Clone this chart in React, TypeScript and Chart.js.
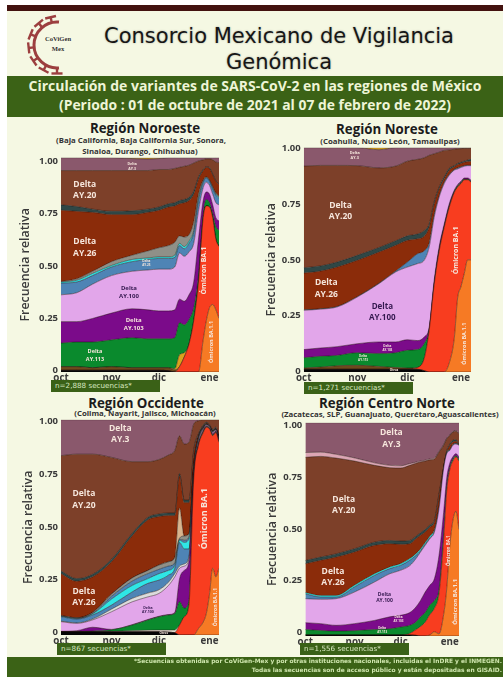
import React, { useEffect, useRef } from "react";
import { Chart, registerables } from "chart.js";

Chart.register(...registerables);

const xStops = [0, 10, 20, 32, 45, 55, 62, 68, 72, 75, 78, 81, 84, 87, 90, 92, 94, 96, 98, 100];
const xTickPositions = [0, 32, 62, 94];
const xTickLabels = ["oct", "nov", "dic", "ene"];
const yTicks = [0, 0.25, 0.5, 0.75, 1];

// Upper edge of each layer (cumulative relative frequency), Región Noroeste
const noOtros = [.008,.008,.008,.008,.008,.008,.008,.006,0,0,0,0,0,0,0,0,0,0,0,0];
const noBA11 = [0,0,0,0,0,0,0,0,0,0,0,0,0,0,.15,.24,.30,.315,.29,.25];
const noBA1 = [0,0,0,0,0,0,0,0,0,.025,.07,.13,.24,.42,.72,.775,.77,.72,.62,.585];
const noCafe = [.025,.025,.02,.025,.02,.02,.02,.02,.01,0,0,0,0,0,0,0,0,0,0,0];
const noOro = [.025,.025,.02,.025,.02,.02,.02,.02,.015,.08,.09,0,0,0,0,0,0,0,0,0];
const noAY113 = [.135,.14,.14,.15,.16,.155,.155,.155,.16,.23,.22,.245,.30,.45,.74,.805,.79,.74,.68,.66];
const noAY103 = [.235,.235,.25,.275,.295,.29,.285,.285,.29,.34,.33,.36,.42,.62,.80,.84,.83,.78,.72,.705];
const noAY100 = [.36,.37,.41,.45,.47,.476,.48,.48,.49,.555,.54,.56,.60,.75,.86,.885,.87,.83,.79,.78];
const noAY25 = [.415,.42,.45,.49,.515,.525,.53,.53,.535,.59,.575,.60,.65,.80,.885,.905,.89,.855,.825,.81];
const noCian = [.42,.428,.46,.497,.525,.532,.537,.537,.545,.60,.585,.61,.66,.81,.89,.908,.893,.86,.83,.815];
const noGris = [.422,.435,.47,.515,.545,.565,.58,.59,.605,.635,.63,.64,.70,.83,.895,.91,.895,.865,.835,.82];
const noAY26 = [.755,.75,.745,.735,.735,.745,.755,.77,.775,.785,.79,.80,.83,.90,.94,.955,.95,.92,.89,.875];
const noBanda = [.78,.772,.76,.75,.752,.76,.77,.785,.79,.80,.805,.815,.845,.91,.945,.958,.953,.925,.893,.878];
const noAY20 = [.94,.94,.94,.94,.94,.94,.945,.945,.95,.955,.96,.965,.975,.985,.99,.995,.995,.99,.98,.977];
const noAY3 = [1,1,1,1,.996,.994,.996,1,1,1,1,1,1,1,1,1,1,1,1,1];
const noOroTop = [1,1,1,1,1,1,1,1,1,1,1,1,1,1,1,1,1,1,1,1];

// Región Noreste
const neOtros = [.012,.012,.012,.012,.012,.012,.012,.012,.006,0,0,0,0,0,0,0,0,0,0,0];
const neBA11 = [0,0,0,0,0,0,0,0,0,0,0,0,0,.04,.15,.33,.38,.44,.50,.50];
const neBA1 = [0,0,0,0,0,0,0,.02,.06,.185,.39,.54,.645,.735,.80,.825,.84,.857,.857,.847];
const neCafe = [.018,.022,.028,.03,.025,.02,.018,.02,.06,.185,.39,.54,.645,.735,.80,.825,.84,.857,.857,.847];
const neAY113 = [.064,.07,.074,.086,.082,.086,.097,.10,.126,.19,.395,.545,.65,.74,.805,.83,.845,.86,.86,.85];
const neAY103 = [.10,.107,.113,.126,.134,.134,.144,.14,.156,.20,.41,.56,.66,.75,.81,.835,.85,.865,.865,.855];
const neAY100 = [.275,.28,.29,.334,.394,.446,.468,.483,.498,.557,.69,.78,.84,.877,.90,.905,.912,.917,.92,.92];
const neAY25 = [.277,.282,.292,.336,.396,.45,.49,.527,.54,.575,.70,.785,.845,.88,.903,.91,.915,.92,.922,.922];
const neAY26 = [.441,.45,.468,.498,.535,.565,.587,.594,.605,.646,.75,.817,.862,.90,.915,.925,.93,.935,.938,.94];
const neBanda = [.465,.473,.49,.52,.555,.585,.607,.615,.63,.66,.76,.825,.87,.908,.92,.93,.935,.94,.945,.948];
const neAY20 = [.918,.921,.921,.92,.91,.918,.94,.948,.955,.966,.973,.98,.988,.99,.993,.995,.996,.997,.997,.997];
const neAY3 = [1,1,1,1,.991,1,1,1,1,1,1,1,1,1,1,1,1,1,1,1];
const neOroTop = [1,1,1,1,1,1,1,1,1,1,1,1,1,1,1,1,1,1,1,1];

// Región Occidente
const ocOtros = [.015,.015,.015,.015,.015,.015,.015,.013,.01,0,0,0,0,0,0,0,0,0,0,0];
const ocBA11 = [0,0,0,0,0,0,0,0,0,0,0,0,0,.03,.06,.10,.19,.31,.27,.31];
const ocBA1 = [0,0,0,0,0,0,0,0,.012,.046,.085,.14,.725,.88,.94,.965,.957,.926,.94,.895];
const ocMarfil = [.015,.015,.015,.017,.02,.022,.023,.023,.023,.046,.085,.14,.725,.88,.94,.965,.957,.926,.94,.895];
const ocAY113 = [.015,.016,.018,.024,.046,.07,.085,.093,.10,.155,.125,.16,.73,.885,.945,.968,.96,.93,.943,.90];
const ocAY103 = [.017,.02,.036,.026,.048,.072,.087,.095,.105,.26,.30,.34,.74,.89,.95,.972,.962,.935,.946,.905];
const ocAY100 = [.062,.054,.07,.108,.154,.177,.193,.23,.27,.31,.32,.355,.75,.90,.955,.975,.965,.94,.95,.91];
const ocBlanco = [.064,.056,.074,.12,.17,.195,.21,.245,.285,.32,.33,.365,.76,.905,.958,.977,.967,.942,.952,.912];
const ocAzul = [.085,.074,.093,.139,.20,.24,.255,.278,.31,.43,.40,.40,.77,.91,.96,.978,.968,.944,.954,.914];
const ocCian = [.087,.076,.098,.167,.23,.262,.285,.30,.324,.44,.43,.447,.78,.915,.962,.979,.969,.946,.955,.915];
const ocAzul2 = [.088,.078,.10,.18,.25,.285,.305,.32,.335,.445,.44,.455,.785,.918,.964,.98,.97,.947,.956,.916];
const ocGris = [.09,.08,.105,.19,.265,.30,.325,.34,.36,.45,.46,.47,.79,.92,.965,.981,.971,.948,.957,.917];
const ocTostado = [.09,.08,.105,.19,.265,.30,.325,.34,.36,.59,.46,.47,.79,.92,.965,.981,.971,.948,.957,.917];
const ocAY26 = [.285,.25,.27,.34,.46,.535,.55,.555,.555,.74,.615,.615,.85,.93,.97,.985,.975,.95,.96,.92];
const ocBanda = [.297,.262,.282,.352,.472,.547,.562,.567,.567,.75,.627,.627,.86,.935,.975,.988,.978,.955,.965,.925];
const ocAY20 = [.833,.84,.84,.825,.805,.805,.815,.836,.857,.925,.887,.895,.98,.995,1,1,1,1,1,1];
const ocAY3 = [1,1,1,1,1,1,1,1,1,1,1,1,1,1,1,1,1,1,1,1];

// Región Centro Norte
const cnOtros = [.005,.005,.005,.005,.005,.005,.005,.005,.003,0,0,0,0,0,0,0,0,0,0,0];
const cnBA11 = [0,0,0,0,0,0,0,0,0,0,0,.005,.02,.01,.10,.22,.42,.54,.585,.50];
const cnBA1 = [0,0,0,0,0,0,.005,.012,.03,.045,.065,.10,.13,.20,.45,.68,.78,.82,.84,.82];
const cnAY113 = [.03,.026,.023,.025,.03,.034,.042,.05,.066,.09,.11,.145,.167,.22,.48,.70,.79,.83,.845,.83];
const cnAY103 = [.0625,.058,.05,.058,.073,.09,.097,.11,.136,.167,.206,.2375,.269,.378,.58,.74,.81,.84,.855,.84];
const cnAY100 = [.175,.172,.175,.206,.253,.292,.308,.33,.3625,.394,.425,.456,.4875,.597,.785,.855,.87,.894,.90,.894];
const cnAzul = [.198,.183,.183,.23,.284,.316,.331,.355,.378,.40,.43,.46,.49,.60,.787,.857,.872,.896,.902,.896];
const cnCian = [.204,.19,.19,.238,.292,.324,.339,.363,.386,.408,.438,.468,.498,.605,.79,.859,.874,.898,.904,.898];
const cnAY26 = [.339,.355,.37,.394,.425,.433,.43,.433,.456,.472,.4875,.51,.534,.66,.785,.8625,.894,.91,.9125,.894];
const cnBanda = [.354,.37,.385,.409,.44,.448,.445,.448,.468,.484,.50,.52,.544,.668,.79,.868,.90,.918,.92,.90];
const cnAY20 = [.8375,.842,.834,.82,.80,.789,.7875,.80,.81,.816,.82,.826,.83,.8625,.894,.925,.94,.956,.96,.948];
const cnRosa = [.86,.862,.852,.835,.812,.80,.798,.808,.815,.82,.824,.83,.834,.866,.897,.927,.942,.958,.962,.95];
const cnAY3 = [1,1,1,1,1,1,1,1,1,1,1,1,1,1,1,1,1,1,1,1];

const C = {
  otros: "#050505", ba11: "#f67a24", ba1: "#f83d1f", cafe: "#6d4a1e", oro: "#d8a31e",
  ay113: "#0a8a2d", ay103: "#7b0b8a", ay100: "#e2a6ea", azul: "#4e84b5", cian: "#2fe6e6",
  gris: "#8f9088", ay26: "#8b2c0a", banda: "#2f4746", ay20: "#7d4029", ay3: "#8a586c",
  marfil: "#ece8d8", blanco: "#dcdcdc", tostado: "#d8b48e", rosa: "#dba6b4",
};

const WHITE = "#f6e6dc";
const DARK = "#34184f";

const panels: any[] = [
  {
    left: 18, plotLeft: 61, plotRight: 219, plotTop: 157, plotBottom: 372, tick0: 370, tick1: 161,
    layers: [[noOtros, C.otros], [noBA11, C.ba11], [noBA1, C.ba1], [noCafe, C.cafe], [noOro, C.oro], [noAY113, C.ay113], [noAY103, C.ay103], [noAY100, C.ay100], [noAY25, C.azul], [noCian, C.cian], [noGris, C.gris], [noAY26, C.ay26], [noBanda, C.banda], [noAY20, C.ay20], [noAY3, C.ay3], [noOroTop, C.oro]],
    notes: [
      { t: ["Delta", "AY.20"], f: 15, v: 0.85, s: 8.5, c: WHITE }, { t: ["Delta", "AY.26"], f: 15, v: 0.58, s: 8.5, c: WHITE },
      { t: ["Delta", "AY.100"], f: 43, v: 0.372, s: 6, c: DARK }, { t: ["Delta", "AY.103"], f: 46, v: 0.222, s: 6, c: WHITE },
      { t: ["Delta", "AY.113"], f: 21.5, v: 0.078, s: 5.5, c: WHITE }, { t: ["Delta", "AY.3"], f: 45, v: 0.96, s: 3.5, c: WHITE },
      { t: ["Delta", "AY.25"], f: 54, v: 0.507, s: 3, c: WHITE },
      { t: ["Ómicron BA.1"], f: 90.5, v: 0.473, s: 7, c: WHITE, r: true }, { t: ["Ómicron BA.1.1"], f: 95.5, v: 0.14, s: 5.5, c: WHITE, r: true },
    ],
  },
  {
    left: 264, plotLeft: 303.7, plotRight: 471, plotTop: 147, plotBottom: 372, tick0: 371, tick1: 148,
    layers: [[neOtros, C.otros], [neBA11, C.ba11], [neBA1, C.ba1], [neCafe, C.cafe], [neAY113, C.ay113], [neAY103, C.ay103], [neAY100, C.ay100], [neAY25, C.azul], [neAY26, C.ay26], [neBanda, C.banda], [neAY20, C.ay20], [neAY3, C.ay3], [neOroTop, C.oro]],
    notes: [
      { t: ["Delta", "AY.3"], f: 30.5, v: 0.965, s: 3.8, c: WHITE }, { t: ["Delta", "AY.20"], f: 22, v: 0.717, s: 8.5, c: WHITE },
      { t: ["Delta", "AY.26"], f: 13.5, v: 0.372, s: 8.5, c: WHITE }, { t: ["Delta", "AY.100"], f: 47, v: 0.267, s: 8, c: DARK },
      { t: ["Delta", "AY.103"], f: 50, v: 0.108, s: 3, c: WHITE }, { t: ["Delta", "AY.113"], f: 35.5, v: 0.062, s: 3, c: WHITE },
      { t: ["Otros"], f: 54, v: 0.007, s: 3, c: WHITE },
      { t: ["Ómicron BA.1"], f: 91, v: 0.542, s: 7, c: WHITE, r: true }, { t: ["Ómicron BA.1.1"], f: 96, v: 0.126, s: 5.5, c: WHITE, r: true },
    ],
  },
  {
    left: 21, plotLeft: 61, plotRight: 219, plotTop: 419, plotBottom: 635, tick0: 632, tick1: 421,
    layers: [[ocOtros, C.otros], [ocBA11, C.ba11], [ocBA1, C.ba1], [ocMarfil, C.marfil], [ocAY113, C.ay113], [ocAY103, C.ay103], [ocAY100, C.ay100], [ocBlanco, C.blanco], [ocAzul, C.azul], [ocCian, C.cian], [ocAzul2, C.azul], [ocGris, C.gris], [ocTostado, C.tostado], [ocAY26, C.ay26], [ocBanda, C.banda], [ocAY20, C.ay20], [ocAY3, C.ay3]],
    notes: [
      { t: ["Delta", "AY.3"], f: 37.5, v: 0.934, s: 8.5, c: WHITE }, { t: ["Delta", "AY.20"], f: 14.5, v: 0.63, s: 8.5, c: WHITE },
      { t: ["Delta", "AY.26"], f: 14.5, v: 0.177, s: 8.5, c: WHITE }, { t: ["Delta", "AY.100"], f: 55, v: 0.116, s: 3.5, c: DARK },
      { t: ["Otros"], f: 65, v: 0.008, s: 3, c: WHITE },
      { t: ["Ómicron BA.1"], f: 90.5, v: 0.54, s: 9, c: WHITE, r: true }, { t: ["Ómicron BA.1.1"], f: 98, v: 0.13, s: 5, c: WHITE, r: true },
    ],
  },
  {
    left: 265, plotLeft: 305.3, plotRight: 459.3, plotTop: 422, plotBottom: 635.7, tick0: 632, tick1: 425,
    layers: [[cnOtros, C.otros], [cnBA11, C.ba11], [cnBA1, C.ba1], [cnAY113, C.ay113], [cnAY103, C.ay103], [cnAY100, C.ay100], [cnAzul, C.azul], [cnCian, C.cian], [cnAY26, C.ay26], [cnBanda, C.banda], [cnAY20, C.ay20], [cnRosa, C.rosa], [cnAY3, C.ay3]],
    notes: [
      { t: ["Delta", "AY.3"], f: 56, v: 0.925, s: 8.5, c: WHITE }, { t: ["Delta", "AY.20"], f: 25, v: 0.615, s: 8.5, c: WHITE },
      { t: ["Delta", "AY.26"], f: 18, v: 0.277, s: 8.5, c: WHITE }, { t: ["Delta", "AY.100"], f: 51.5, v: 0.18, s: 5, c: DARK },
      { t: ["Delta", "AY.103"], f: 60.6, v: 0.08, s: 3, c: WHITE }, { t: ["Delta", "AY.113"], f: 50, v: 0.027, s: 3, c: WHITE },
      { t: ["Ómicron BA.1"], f: 93, v: 0.40, s: 4.5, c: WHITE, r: true }, { t: ["Ómicron BA.1.1"], f: 97.4, v: 0.16, s: 6, c: WHITE, r: true },
    ],
  },
];

const FONT = '"Open Sans", sans-serif';
const TOP_PAD = 8;
const X_AXIS_H = 14;
const RIGHT_PAD = 6;

const notesPlugin = {
  id: "notes",
  afterDatasetsDraw(chart: any, _a: any, opts: any) {
    const { ctx, scales } = chart;
    for (const n of opts.items || []) {
      const px = scales.x.getPixelForValue(n.f);
      const py = scales.y.getPixelForValue(n.v);
      ctx.save();
      ctx.translate(px, py);
      if (n.r) ctx.rotate(-Math.PI / 2);
      ctx.font = `700 ${n.s}px ${FONT}`;
      ctx.fillStyle = n.c;
      ctx.textAlign = "center";
      ctx.textBaseline = "middle";
      const lh = n.s * 1.35;
      n.t.forEach((line: string, i: number) => ctx.fillText(line, 0, (i - (n.t.length - 1) / 2) * lh));
      ctx.restore();
    }
  },
};

function Panel({ p }: { p: any }) {
  const ref = useRef<HTMLCanvasElement | null>(null);
  useEffect(() => {
    const floor = xStops.map(() => 0);
    let prev = floor;
    const datasets = p.layers.map(([vals, color]: any, i: number) => {
      const data = xStops.map((x, k) => ({ x, y: Math.max(prev[k], vals[k]) }));
      prev = data.map((d: any) => d.y);
      return {
        data, backgroundColor: color, borderColor: "rgba(25,10,10,0.8)", borderWidth: 0.55,
        pointRadius: 0, cubicInterpolationMode: "monotone", fill: i === 0 ? "origin" : "-1", yAxisID: "y",
      };
    });
    const a = p.tick0, b = p.tick1;
    const chart = new Chart(ref.current as any, {
      type: "line",
      data: { datasets },
      plugins: [notesPlugin],
      options: {
        animation: false, responsive: false, events: [],
        layout: { padding: { top: TOP_PAD, right: RIGHT_PAD, left: 0, bottom: 0 } },
        plugins: { legend: { display: false }, tooltip: { enabled: false }, title: { display: false }, notes: { items: p.notes } },
        scales: {
          x: {
            type: "linear", min: 0, max: 100,
            grid: { display: false, drawTicks: false }, border: { display: false },
            afterBuildTicks: (s: any) => { s.ticks = xTickPositions.map((value) => ({ value })); },
            afterFit: (s: any) => { s.height = X_AXIS_H; },
            ticks: {
              autoSkip: false, maxRotation: 0, padding: 0, color: "#3a3a3a",
              font: { family: FONT, size: 9.8, weight: "700" },
              callback: (v: number) => xTickLabels[xTickPositions.indexOf(v)],
            },
          },
          y: { display: false, min: 0, max: 1 },
          yl: {
            position: "left", min: (a - p.plotBottom) / (a - b), max: (a - p.plotTop) / (a - b),
            grid: { display: false, drawTicks: false }, border: { display: false },
            afterBuildTicks: (s: any) => { s.ticks = yTicks.map((value) => ({ value })); },
            afterFit: (s: any) => { s.width = p.plotLeft - p.left; },
            title: { display: true, text: "Frecuencia relativa", color: "#3a3a3a", padding: 0, font: { family: FONT, size: 12.4, weight: "600" } },
            ticks: {
              autoSkip: false, padding: 3, color: "#3a3a3a",
              font: { family: FONT, size: 9.5, weight: "700" },
              callback: (v: number) => (v === 0 ? "0" : v.toFixed(2)),
            },
          },
        },
      } as any,
    });
    return () => chart.destroy();
  }, [p]);
  const w = p.plotRight - p.left + RIGHT_PAD;
  const h = p.plotBottom - p.plotTop + TOP_PAD + X_AXIS_H;
  return (
    <canvas ref={ref} width={Math.round(w)} height={Math.round(h)}
      style={{ position: "absolute", left: p.left, top: p.plotTop - TOP_PAD, width: Math.round(w), height: Math.round(h), display: "block" }} />
  );
}

function Text({ x, y, w = 400, size, weight = 700, color = "#1c1c1c", children, font = FONT, align = "center", shadow }: any) {
  return (
    <div style={{
      position: "absolute", left: align === "center" ? x - w / 2 : x - w, top: y - size, width: w, height: size * 2, lineHeight: `${size * 2}px`,
      fontFamily: font, fontSize: size, fontWeight: weight, color, textAlign: align, whiteSpace: "nowrap", textShadow: shadow,
    }}>{children}</div>
  );
}

function Tag({ x, y, w, children }: any) {
  return (
    <div style={{
      position: "absolute", left: x, top: y, width: w, height: 11.5, lineHeight: "11.5px", background: "#3a6117", color: "#d8e8c0",
      fontFamily: '"DejaVu Sans", sans-serif', fontSize: 7.2, fontWeight: 400, paddingLeft: 4, boxSizing: "border-box", whiteSpace: "nowrap",
    }}>{children}</div>
  );
}

const spikeAngles = [95, 122, 150, 178, 206, 234, 262];

function Logo() {
  const cx = 57, cy = 45, r = 23;
  const pol = (deg: number, rad: number) => [cx + rad * Math.cos((deg * Math.PI) / 180), cy - rad * Math.sin((deg * Math.PI) / 180)];
  const [sx, sy] = pol(85, r);
  const [ex, ey] = pol(275, r);
  return (
    <svg width={90} height={80} style={{ position: "absolute", left: 0, top: 5 }} viewBox="0 5 90 80">
      <path d={`M ${sx} ${sy} A ${r} ${r} 0 1 0 ${ex} ${ey}`} fill="none" stroke="#9c3f3f" strokeWidth={3} />
      {spikeAngles.map((d) => {
        const [x1, y1] = pol(d + 8, r);
        const [x2, y2] = pol(d + 8, r + 6);
        const [a1, b1] = pol(d - 3, r + 6);
        const [a2, b2] = pol(d + 19, r + 6);
        return (
          <g key={d} stroke="#9c3f3f" strokeWidth={2.4}>
            <line x1={x1} y1={y1} x2={x2} y2={y2} />
            <line x1={a1} y1={b1} x2={a2} y2={b2} />
          </g>
        );
      })}
      <text x={58} y={40.5} textAnchor="middle" fontFamily="Liberation Serif, serif" fontSize={6.6} fontWeight={700} fill="#333">CoViGen</text>
      <text x={58} y={50.5} textAnchor="middle" fontFamily="Liberation Serif, serif" fontSize={6.6} fontWeight={700} fill="#333">Mex</text>
    </svg>
  );
}

export default function App() {
  const titleFont = '"DejaVu Sans", sans-serif';
  const shadow = "0 0 2px rgba(0,0,0,0.35)";
  return (
    <div style={{ position: "absolute", left: 0, top: 0, width: 503, height: 677, overflow: "hidden", background: "#ffffff", filter: "blur(0.45px)" }}>
      <div style={{ position: "absolute", left: 7, top: 5, right: 0, bottom: 0, background: "#f5f8e3" }} />
      <div style={{ position: "absolute", left: 7, top: 5, right: 0, height: 6, background: "#43120f" }} />
      <div style={{ position: "absolute", left: 7, top: 76, right: 0, height: 41, background: "#3b6216" }} />
      <div style={{ position: "absolute", left: 7, top: 657, right: 0, height: 20, background: "#3b6216" }} />
      <Logo />
      <Text x={279} y={36} w={440} size={21} weight={400} font={titleFont} color="#161616" shadow={shadow}>Consorcio Mexicano de Vigilancia</Text>
      <Text x={279} y={62} w={440} size={21} weight={400} font={titleFont} color="#161616" shadow={shadow}>Genómica</Text>
      <Text x={255} y={86} w={500} size={14} color="#eef5d6">Circulación de variantes de SARS-CoV-2 en las regiones de México</Text>
      <Text x={255} y={105} w={500} size={13.9} color="#eef5d6">(Periodo : 01 de octubre de 2021 al 07 de febrero de 2022)</Text>

      <Text x={145} y={128} size={13.3}>Región Noroeste</Text>
      <Text x={141} y={141} size={7.8} color="#333">(Baja California, Baja California Sur, Sonora,</Text>
      <Text x={140} y={152} size={7.8} color="#333">Sinaloa, Durango, Chihuahua)</Text>
      <Text x={387} y={129} size={13.3}>Región Noreste</Text>
      <Text x={390} y={141.5} size={7.8} color="#333">(Coahuila, Nuevo León, Tamaulipas)</Text>
      <Text x={146} y={403} size={13.3}>Región Occidente</Text>
      <Text x={145} y={414} size={7.8} color="#333">(Colima, Nayarit, Jalisco, Michoacán)</Text>
      <Text x={387} y={403} size={13.3}>Región Centro Norte</Text>
      <Text x={390} y={415} size={7.8} color="#333">(Zacatecas, SLP, Guanajuato, Querétaro,Aguascalientes)</Text>

      {panels.map((p, i) => <Panel key={i} p={p} />)}

      <Tag x={51} y={380} w={109}>n=2,888 secuencias*</Tag>
      <Tag x={304} y={382} w={109}>n=1,271 secuencias*</Tag>
      <Tag x={57} y={643} w={109}>n=867 secuencias*</Tag>
      <Tag x={300} y={643} w={109}>n=1,556 secuencias*</Tag>

      <Text x={502} y={662} w={420} size={5.9} color="#cfe6ae" align="right" font={titleFont}>*Secuencias obtenidas por CoViGen-Mex y por otras instituciones nacionales, incluidas el InDRE y el INMEGEN.</Text>
      <Text x={502} y={670.5} w={420} size={5.9} color="#cfe6ae" align="right" font={titleFont}>Todas las secuencias son de acceso público y están depositadas en GISAID.</Text>
    </div>
  );
}
